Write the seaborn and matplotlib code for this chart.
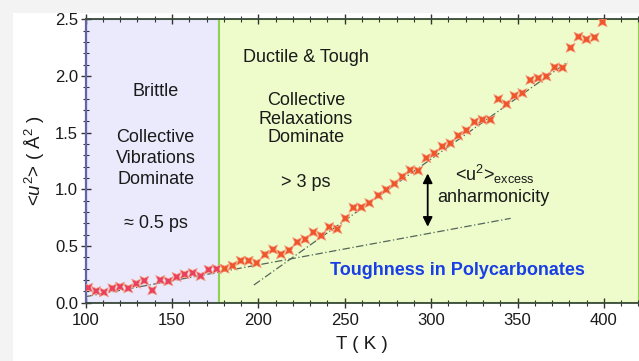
import matplotlib
matplotlib.use("Agg")
import matplotlib.pyplot as plt
import matplotlib.patches as mpatches
from matplotlib.path import Path
from matplotlib.ticker import MultipleLocator, FormatStrFormatter
import seaborn as sns
import pandas as pd

# ---- data ----
temperature_K = [101.6, 106.1, 110.6, 115.5, 119.9, 124.7, 129.3, 134.0, 138.6, 143.2,
                 147.9, 152.7, 157.3, 162.0, 166.6, 171.2, 175.9, 180.5, 185.1, 189.8,
                 194.4, 199.0, 203.8, 208.5, 213.1, 217.8, 222.5, 227.1, 231.8, 236.4,
                 241.0, 245.7, 250.3, 255.0, 259.6, 264.2, 269.4, 274.0, 278.7, 283.3,
                 287.9, 292.5, 297.2, 301.8, 306.5, 311.1, 315.7, 320.4, 325.1, 329.7,
                 334.3, 338.9, 343.6, 348.2, 352.8, 357.4, 362.0, 366.7, 371.5, 376.1,
                 380.7, 385.3, 389.9, 394.6, 399.2]
msd_u2 = [0.132, 0.103, 0.092, 0.127, 0.141, 0.127, 0.168, 0.194, 0.109, 0.200,
          0.189, 0.227, 0.250, 0.262, 0.235, 0.291, 0.297, 0.300, 0.326, 0.370,
          0.370, 0.350, 0.424, 0.469, 0.427, 0.462, 0.534, 0.559, 0.621, 0.591,
          0.668, 0.650, 0.744, 0.838, 0.841, 0.879, 0.946, 0.997, 1.049, 1.111,
          1.170, 1.164, 1.276, 1.317, 1.378, 1.406, 1.473, 1.520, 1.594, 1.614,
          1.614, 1.796, 1.752, 1.825, 1.849, 1.964, 1.981, 1.996, 2.076, 2.072,
          2.249, 2.346, 2.323, 2.340, 2.475]

brittle_limit_K = 177.3
x_limits = [100, 420.3]
y_limits = [0.0, 2.5]

fit_harmonic_T = [100, 346]
fit_harmonic_u = [0.053, 0.744]
fit_anharmonic_T = [197.4, 379.1]
fit_anharmonic_u = [0.156, 2.125]

arrow_T = 298.0
arrow_u = [1.14, 0.67]

df = pd.DataFrame({"T": temperature_K, "u2": msd_u2})
df["regime"] = ["brittle" if t < brittle_limit_K else "ductile" for t in df["T"]]

# fat "x" marker (square with notched sides)
marker_path = Path([(1, 1), (0, 0.55), (-1, 1), (-0.55, 0), (-1, -1), (0, -0.55),
                    (1, -1), (0.55, 0), (1, 1)],
                   [Path.MOVETO] + [Path.LINETO] * 7 + [Path.CLOSEPOLY])

# ---- style ----
sns.set_theme(style="ticks")
plt.rcParams["font.family"] = ["Liberation Sans", "DejaVu Sans"]
plt.rcParams["mathtext.fontset"] = "custom"
plt.rcParams["mathtext.rm"] = "Liberation Sans"
plt.rcParams["mathtext.it"] = "Liberation Sans:italic"

fig = plt.figure(figsize=(6.39, 3.61), dpi=100, facecolor="#f3f3f3")
fig.patches.append(mpatches.Rectangle((13 / 639, 0), 1 - 13 / 639, 1 - 13 / 361,
                                      transform=fig.transFigure, facecolor="white",
                                      edgecolor="none", zorder=-10))
ax = fig.add_axes([85.6 / 639, 1 - 302.7 / 361, 1 - 85.6 / 639, (302.7 - 19.3) / 361])
ax.set_facecolor("white")

# regime backgrounds
ax.axvspan(x_limits[0], brittle_limit_K, facecolor="#eaeafc", edgecolor="#a4a4e4",
           linewidth=1.5, zorder=0)
ax.axvspan(brittle_limit_K, x_limits[1], facecolor="#edfcca", edgecolor="#92cf55",
           linewidth=1.5, zorder=0)

# fit lines
sns.lineplot(x=fit_harmonic_T, y=fit_harmonic_u, ax=ax, color="#56665a",
             linewidth=0.9, linestyle=(0, (6, 2, 1, 2)), zorder=2)
sns.lineplot(x=fit_anharmonic_T, y=fit_anharmonic_u, ax=ax, color="#56665a",
             linewidth=0.9, linestyle=(0, (6, 2, 1, 2)), zorder=2)

# data points
sns.scatterplot(data=df, x="T", y="u2", hue="regime",
                palette={"brittle": "#e8405e", "ductile": "#ef552b"},
                marker=marker_path, s=44, linewidth=0.5, edgecolor="#f4a486",
                legend=False, ax=ax, zorder=3)

# double arrow
ax.annotate("", xy=(arrow_T, arrow_u[1]), xytext=(arrow_T, arrow_u[0]),
            arrowprops=dict(arrowstyle="<|-|>", color="black", lw=1.3,
                            mutation_scale=14, shrinkA=0, shrinkB=0), zorder=4)

# texts
tkw = dict(fontsize=13, color="#1a1a1a", ha="center", va="center")
ax.text(140.5, 1.865, "Brittle", **tkw)
ax.text(140.5, 1.27, "Collective\nVibrations\nDominate", linespacing=1.3, **tkw)
ax.text(140.5, 0.70, "≈ 0.5 ps", **tkw)
ax.text(227.5, 2.165, "Ductile & Tough", **tkw)
ax.text(227.5, 1.62, "Collective\nRelaxations\nDominate", linespacing=1.1, **tkw)
ax.text(227.5, 1.064, "> 3 ps", **tkw)
ax.text(313.8, 1.13, r"<u$^2$>$_{\mathrm{excess}}$", fontsize=13, color="#1a1a1a",
        ha="left", va="center")
ax.text(336.3, 0.93, "anharmonicity", **tkw)
ax.text(315.2, 0.28, "Toughness in Polycarbonates", fontsize=13, fontweight="bold",
        color="#1a3ee6", ha="center", va="center")

# axes
ax.set_xlim(*x_limits)
ax.set_ylim(*y_limits)
ax.xaxis.set_major_locator(MultipleLocator(50))
ax.xaxis.set_minor_locator(MultipleLocator(10))
ax.yaxis.set_major_locator(MultipleLocator(0.5))
ax.yaxis.set_minor_locator(MultipleLocator(0.1))
ax.yaxis.set_major_formatter(FormatStrFormatter("%.1f"))
ax.tick_params(axis="x", which="both", direction="inout", top=True, bottom=True,
               colors="#333333", labelcolor="#1a1a1a", labelsize=12, pad=4)
ax.tick_params(axis="y", which="both", direction="inout", left=True,
               colors="#333333", labelcolor="#1a1a1a", labelsize=12, pad=2)
ax.tick_params(which="major", length=7, width=1.0)
ax.tick_params(which="minor", length=4, width=0.8)

for side in ["top", "bottom"]:
    ax.spines[side].set_color("#3a4a3a")
    ax.spines[side].set_linewidth(1.3)
ax.spines["left"].set_color("#6464a8")
ax.spines["left"].set_linewidth(1.6)
ax.spines["right"].set_visible(False)

ax.set_xlabel("T ( K )", fontsize=13.5, color="#1a1a1a", labelpad=6)
ax.set_ylabel(r"<$u^2$> ( Å$^2$ )", fontsize=13.5, color="#1a1a1a", labelpad=6)

fig.savefig("out.png", dpi=100, facecolor=fig.get_facecolor())
